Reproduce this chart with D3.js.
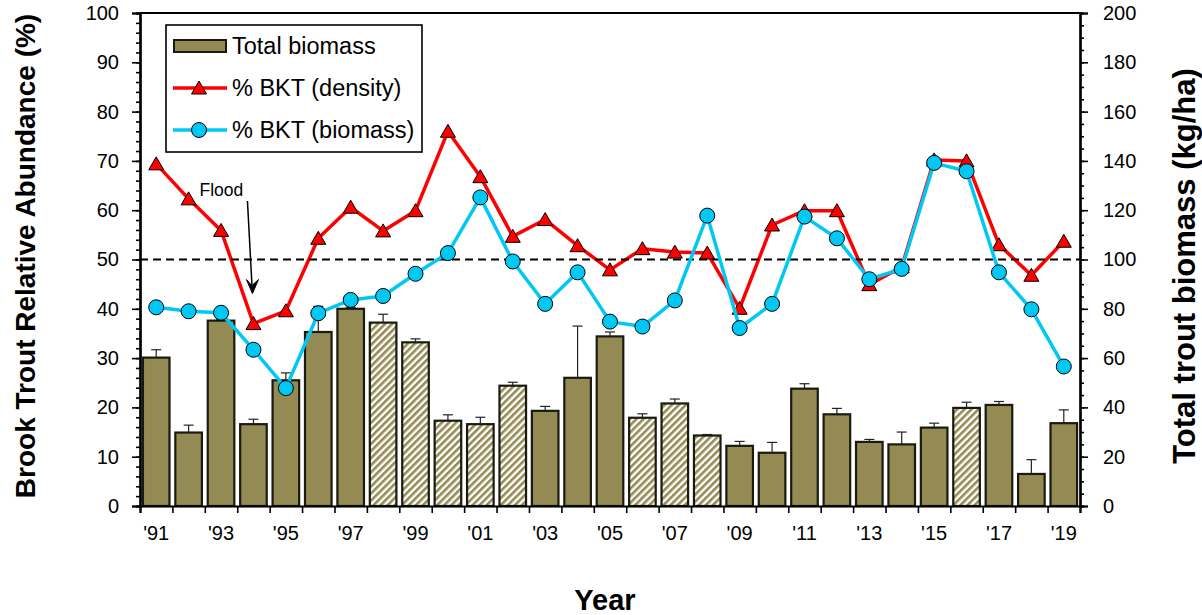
<!DOCTYPE html>
<html>
<head>
<meta charset="utf-8">
<script src="https://cdn.jsdelivr.net/npm/d3@7"></script>
<style>
  body { margin: 0; background: #fff; }
  svg { display: block; }
  text { font-family: "Liberation Sans", Arial, sans-serif; fill: #000; }
</style>
</head>
<body>
<svg id="chart" width="1202" height="615"></svg>
<script>
// Survey years
const years = [1991, 1992, 1993, 1994, 1995, 1996, 1997, 1998, 1999, 2000,
               2001, 2002, 2003, 2004, 2005, 2006, 2007, 2008, 2009, 2010,
               2011, 2012, 2013, 2014, 2015, 2016, 2017, 2018, 2019];

// Total trout biomass (kg/ha) and its upper error
const biomass = [60.2, 29.8, 75.2, 33.2, 51.0, 70.6, 80.0, 74.4, 66.4, 34.6,
                 33.2, 48.8, 38.6, 52.0, 68.8, 35.8, 41.6, 28.6, 24.4, 21.6,
                 47.6, 37.2, 26.0, 25.0, 31.8, 39.8, 41.0, 13.0, 33.6];
const biomassErr = [3.2, 3.0, 0.6, 2.0, 3.0, 10.4, 0.6, 3.4, 1.4, 2.4,
                    2.8, 1.4, 1.8, 21.0, 1.8, 1.6, 1.8, 0.4, 1.8, 4.2,
                    2.0, 2.4, 1.0, 5.0, 1.8, 2.3, 1.4, 5.8, 5.4];

// Years drawn with a hatched bar
const hatchedYears = [1998, 1999, 2000, 2001, 2002, 2006, 2007, 2008, 2016];

// Brook trout share (%) by density and by biomass
const pctDensity = [69.4, 62.3, 55.9, 37.0, 39.6, 54.3, 60.6, 55.8, 59.9, 76.0,
                    66.8, 54.7, 58.1, 52.8, 47.9, 52.2, 51.5, 51.3, 40.1, 57.0,
                    59.9, 59.9, 44.9, 48.5, 70.2, 70.0, 53.0, 46.8, 53.7];
const pctBiomass = [40.3, 39.5, 39.2, 31.7, 23.9, 39.1, 41.8, 42.6, 47.1, 51.3,
                    62.6, 49.6, 41.0, 47.4, 37.4, 36.4, 41.7, 58.9, 36.1, 41.0,
                    58.7, 54.3, 46.0, 48.1, 69.6, 67.9, 47.4, 39.9, 28.3];

const refLine = 50;
const floodYear = 1994;

const leftTicks = [0, 10, 20, 30, 40, 50, 60, 70, 80, 90, 100];
const rightTicks = [0, 20, 40, 60, 80, 100, 120, 140, 160, 180, 200];

const OLIVE = "#948A54";
const RED = "#FF0000";
const CYAN = "#00C8F5";

const svg = d3.select("#chart");
const L = 140, R = 1080, T = 13, B = 506;

const x = d3.scaleBand().domain(years).range([L, R]).paddingInner(0.18).paddingOuter(0.09);
const xEdge = d3.scaleLinear().domain([0, years.length]).range([L, R]);
const yL = d3.scaleLinear().domain([0, 100]).range([B, T]);
const yR = d3.scaleLinear().domain([0, 200]).range([B, T]);

// diagonal hatch for the hatched bars
const defs = svg.append("defs");
const pat = defs.append("pattern").attr("id", "hatch")
  .attr("patternUnits", "userSpaceOnUse").attr("width", 5).attr("height", 5)
  .attr("patternTransform", "rotate(45)");
pat.append("rect").attr("width", 5).attr("height", 5).attr("fill", "#fff");
pat.append("rect").attr("width", 2.6).attr("height", 5).attr("fill", OLIVE);

// bars
const bars = years.map((yr, i) => ({ yr, v: biomass[i], e: biomassErr[i], h: hatchedYears.includes(yr) }));
svg.append("g").selectAll("rect").data(bars).join("rect")
  .attr("x", d => x(d.yr)).attr("width", x.bandwidth())
  .attr("y", d => yR(d.v)).attr("height", d => yR(0) - yR(d.v))
  .attr("fill", d => d.h ? "url(#hatch)" : OLIVE)
  .attr("stroke", "#1a1a10").attr("stroke-width", 2.2);

// error bars (upper)
const eg = svg.append("g").attr("stroke", "#222").attr("stroke-width", 1.2);
bars.forEach(d => {
  const cx = x(d.yr) + x.bandwidth() / 2;
  eg.append("line").attr("x1", cx).attr("x2", cx).attr("y1", yR(d.v)).attr("y2", yR(d.v + d.e));
  eg.append("line").attr("x1", cx - 5).attr("x2", cx + 5).attr("y1", yR(d.v + d.e)).attr("y2", yR(d.v + d.e));
});

// axes
const fmt = d3.format("d");
const gL = svg.append("g").attr("transform", `translate(${L},0)`)
  .call(d3.axisLeft(yL).tickValues(yL.ticks(50)).tickSize(4).tickFormat(""));
const gL2 = svg.append("g").attr("transform", `translate(${L},0)`)
  .call(d3.axisLeft(yL).tickValues(leftTicks).tickSize(8).tickPadding(13).tickFormat(fmt));
const gR = svg.append("g").attr("transform", `translate(${R},0)`)
  .call(d3.axisRight(yR).tickValues(yR.ticks(50)).tickSize(4).tickFormat(""));
const gR2 = svg.append("g").attr("transform", `translate(${R},0)`)
  .call(d3.axisRight(yR).tickValues(rightTicks).tickSize(8).tickPadding(15).tickFormat(fmt));
const gB = svg.append("g").attr("transform", `translate(0,${B})`)
  .call(d3.axisBottom(xEdge).tickValues(xEdge.ticks(years.length)).tickSize(7).tickFormat(""));
const gB2 = svg.append("g").attr("transform", `translate(0,${B})`)
  .call(d3.axisBottom(x).tickValues(years.filter((d, i) => i % 2 === 0)).tickSize(0).tickPadding(20)
    .tickFormat(d => "'" + String(d).slice(2)));
gB2.select(".domain").remove();
[gL, gL2, gR, gR2, gB].forEach(g => {
  g.selectAll(".domain").attr("stroke", "#000").attr("stroke-width", 2.2);
  g.selectAll(".tick line").attr("stroke", "#000").attr("stroke-width", 1.6);
});
[gL2, gR2, gB2].forEach(g => g.selectAll("text").attr("font-size", 20).attr("font-family", "Liberation Sans, Arial, sans-serif").attr("fill", "#000"));
svg.append("line").attr("x1", L).attr("x2", R).attr("y1", T).attr("y2", T).attr("stroke", "#000").attr("stroke-width", 2.2);

// 50% reference
const refG = svg.append("g");

// density line
const lineL = d3.line().x((d, i) => x(years[i]) + x.bandwidth() / 2).y(d => yL(d));
svg.append("path").datum(pctDensity).attr("d", lineL)
  .attr("fill", "none").attr("stroke", RED).attr("stroke-width", 3.5).attr("stroke-linejoin", "round");
const tri = "M0,-7 L7.5,6 L-7.5,6 Z";
svg.append("g").selectAll("path").data(pctDensity).join("path")
  .attr("d", tri)
  .attr("transform", (d, i) => `translate(${x(years[i]) + x.bandwidth() / 2},${yL(d)})`)
  .attr("fill", RED).attr("stroke", "#000").attr("stroke-width", 1);

refG.raise();
refG.append("line").attr("x1", L).attr("x2", R).attr("y1", yL(refLine)).attr("y2", yL(refLine))
  .attr("stroke", "#000").attr("stroke-width", 2).attr("stroke-dasharray", "8,5");

// biomass share line
svg.append("path").datum(pctBiomass).attr("d", lineL)
  .attr("fill", "none").attr("stroke", CYAN).attr("stroke-width", 3.5).attr("stroke-linejoin", "round");
svg.append("g").selectAll("circle").data(pctBiomass).join("circle")
  .attr("cx", (d, i) => x(years[i]) + x.bandwidth() / 2).attr("cy", d => yL(d)).attr("r", 7.5)
  .attr("fill", CYAN).attr("stroke", "#000").attr("stroke-width", 1);

// flood annotation
const fx = x(floodYear) + x.bandwidth() / 2;
svg.append("text").attr("x", fx - 54).attr("y", 196).text("Flood")
  .attr("font-family", "Lato, 'Open Sans', sans-serif").attr("font-size", 17.5);
svg.append("line").attr("x1", fx - 6).attr("y1", 201).attr("x2", fx - 1.5).attr("y2", 285)
  .attr("stroke", "#000").attr("stroke-width", 1.5);
svg.append("path").attr("d", `M${fx - 1},${yL(pctDensity[3]) - 30} L${fx - 7},${yL(pctDensity[3]) - 44} L${fx - 1.5},${yL(pctDensity[3]) - 38} L${fx + 5},${yL(pctDensity[3]) - 44} Z`)
  .attr("fill", "#000").attr("stroke", "#000").attr("stroke-width", 1);

// legend
const lg = svg.append("g");
lg.append("rect").attr("x", 166).attr("y", 25).attr("width", 256).attr("height", 127)
  .attr("fill", "#fff").attr("stroke", "#000").attr("stroke-width", 1.6);
const items = [
  { label: "Total biomass", type: "bar" },
  { label: "% BKT (density)", type: "tri" },
  { label: "% BKT (biomass)", type: "circ" }
];
items.forEach((it, i) => {
  const cy = 46 + i * 42;
  if (it.type === "bar") {
    lg.append("rect").attr("x", 174).attr("y", cy - 6).attr("width", 52).attr("height", 12)
      .attr("fill", OLIVE).attr("stroke", "#1a1a10").attr("stroke-width", 2);
  } else {
    const c = it.type === "tri" ? RED : CYAN;
    lg.append("line").attr("x1", 173).attr("x2", 227).attr("y1", cy).attr("y2", cy)
      .attr("stroke", c).attr("stroke-width", 3.5);
    if (it.type === "tri") {
      lg.append("path").attr("d", tri).attr("transform", `translate(199,${cy})`)
        .attr("fill", RED).attr("stroke", "#000").attr("stroke-width", 1);
    } else {
      lg.append("circle").attr("cx", 199).attr("cy", cy).attr("r", 7.5)
        .attr("fill", CYAN).attr("stroke", "#000").attr("stroke-width", 1);
    }
  }
  lg.append("text").attr("x", 232).attr("y", cy).attr("dy", "0.35em")
    .attr("font-size", 23.5).text(it.label);
});

// axis titles
svg.append("text").attr("transform", "translate(25,256) rotate(-90)")
  .attr("text-anchor", "middle").attr("dy", "0.35em")
  .attr("font-weight", "bold").attr("font-size", 28).text("Brook Trout Relative Abundance (%)");
svg.append("text").attr("transform", "translate(1184,266) rotate(-90)")
  .attr("text-anchor", "middle").attr("dy", "0.35em")
  .attr("font-weight", "bold").attr("font-size", 31).text("Total trout biomass (kg/ha)");
svg.append("text").attr("x", 605).attr("y", 610).attr("text-anchor", "middle")
  .attr("font-weight", "bold").attr("font-size", 29).text("Year");
</script>
</body>
</html>
